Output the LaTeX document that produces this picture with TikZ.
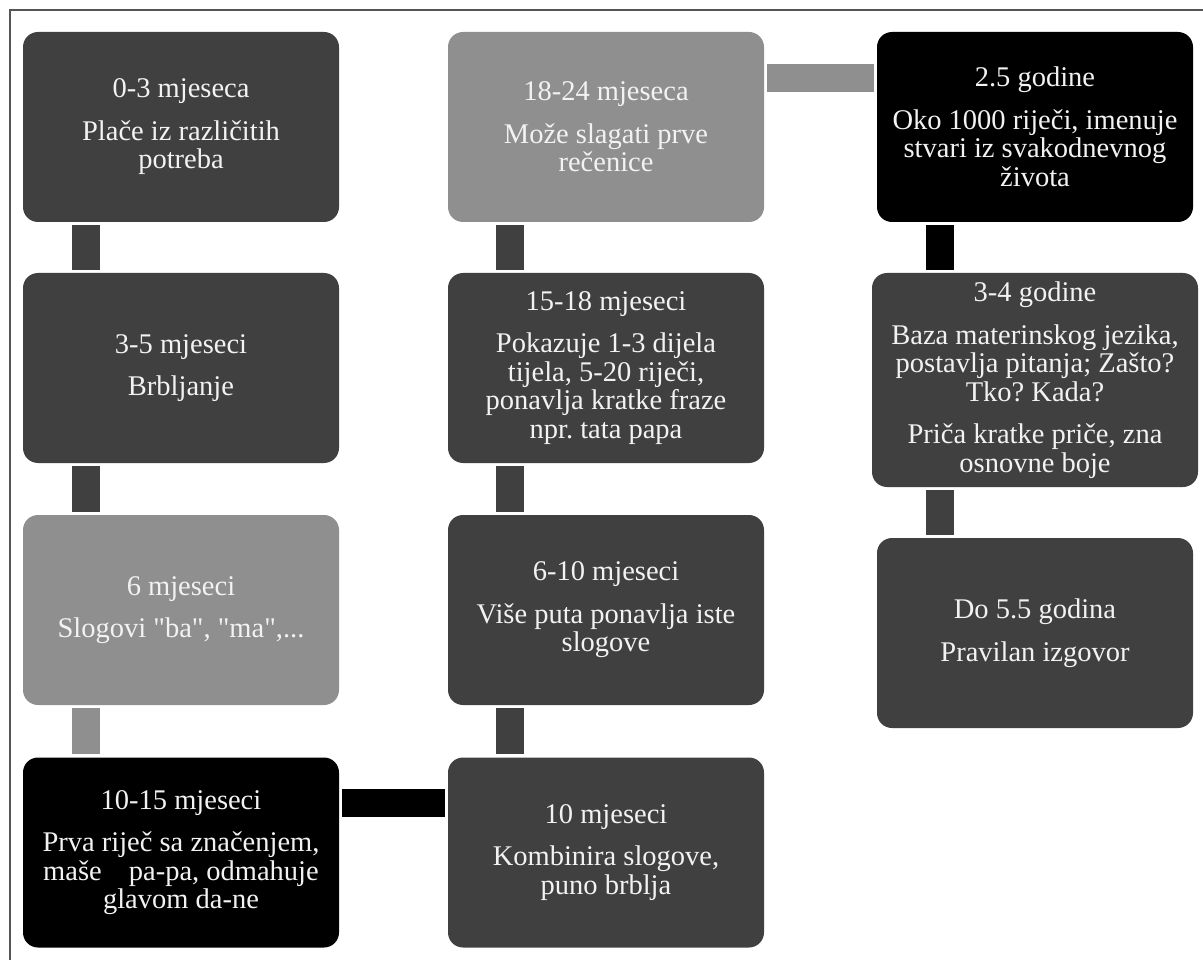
\documentclass[tikz,border=0pt]{standalone}
\usepackage{fontspec}
\setmainfont{Liberation Serif}[Ligatures=TeXOff]
\frenchspacing
\definecolor{boxdark}{HTML}{404040}
\definecolor{boxlight}{HTML}{8F8F8F}
\definecolor{boxblack}{HTML}{000000}
\definecolor{txt}{HTML}{F2F2F2}
\definecolor{frame}{HTML}{555555}
\tikzset{
  box/.style={rounded corners=15pt, draw=none, text=txt, align=center,
    minimum width=316pt, minimum height=190pt, inner sep=0pt,
    font=\fontsize{28.5}{28.5}\selectfont},
  conn/.style={line width=28pt, draw=#1},
}
\newcommand{\gap}{\\[14pt]}
\begin{document}
\begin{tikzpicture}[x=1pt,y=-1pt]
\useasboundingbox (0,0) rectangle (1203,960);
\draw[frame, line width=2pt] (10,960) -- (10,10) -- (1203,10);

% column 1
\node[box, fill=boxdark] (n1) at (181,127) {0-3 mjeseca\gap Plače iz različitih\\potreba};
\node[box, fill=boxdark] (n2) at (181,368) {3-5 mjeseci\gap Brbljanje};
\node[box, fill=boxlight] (n3) at (181,610) {6 mjeseci\gap Slogovi "ba", "ma",...};
\node[box, fill=boxblack] (n4) at (181,852.5) {10-15 mjeseci\gap Prva riječ sa značenjem,\\maše\hspace{20pt} pa-pa, odmahuje\\glavom da-ne};

% column 2
\node[box, fill=boxdark] (n5) at (606,852.5) {10 mjeseci\gap Kombinira slogove,\\puno brblja};
\node[box, fill=boxdark] (n6) at (606,610) {6-10 mjeseci\gap Više puta ponavlja iste\\slogove};
\node[box, fill=boxdark] (n7) at (606,368) {15-18 mjeseci\gap Pokazuje 1-3 dijela\\tijela, 5-20 riječi,\\ponavlja kratke fraze\\npr. tata papa};
\node[box, fill=boxlight] (n8) at (606,127) {18-24 mjeseca\gap Može slagati prve\\rečenice};

% column 3
\node[box, fill=boxblack] (n9) at (1035,127) {2.5 godine\gap Oko 1000 riječi, imenuje\\stvari iz svakodnevnog\\života};
\node[box, fill=boxdark, minimum width=326pt, minimum height=214pt] (n10) at (1035,380) {3-4 godine\gap Baza materinskog jezika,\\postavlja pitanja; Zašto?\\Tko? Kada?\gap Priča kratke priče, zna\\osnovne boje};
\node[box, fill=boxdark] (n11) at (1035,633) {Do 5.5 godina\gap Pravilan izgovor};

% connectors
\draw[conn=boxdark] ([xshift=63pt,yshift=-3pt]n1.south west) -- ([xshift=63pt,yshift=3pt]n2.north west);
\draw[conn=boxdark] ([xshift=63pt,yshift=-3pt]n2.south west) -- ([xshift=63pt,yshift=3pt]n3.north west);
\draw[conn=boxlight] ([xshift=63pt,yshift=-3pt]n3.south west) -- ([xshift=63pt,yshift=3pt]n4.north west);
\draw[conn=boxblack] ([xshift=3pt,yshift=-46pt]n4.north east) -- ([xshift=-3pt,yshift=-46pt]n5.north west);
\draw[conn=boxdark] ([xshift=62pt,yshift=3pt]n5.north west) -- ([xshift=62pt,yshift=-3pt]n6.south west);
\draw[conn=boxdark] ([xshift=62pt,yshift=3pt]n6.north west) -- ([xshift=62pt,yshift=-3pt]n7.south west);
\draw[conn=boxdark] ([xshift=62pt,yshift=3pt]n7.north west) -- ([xshift=62pt,yshift=-3pt]n8.south west);
\draw[conn=boxlight] ([xshift=3pt,yshift=-46pt]n8.north east) -- ([xshift=-3pt,yshift=-46pt]n9.north west);
\draw[conn=boxblack] ([xshift=63pt,yshift=-3pt]n9.south west) -- ([xshift=68pt,yshift=3pt]n10.north west);
\draw[conn=boxdark] ([xshift=68pt,yshift=-3pt]n10.south west) -- ([xshift=63pt,yshift=3pt]n11.north west);
\end{tikzpicture}
\end{document}
